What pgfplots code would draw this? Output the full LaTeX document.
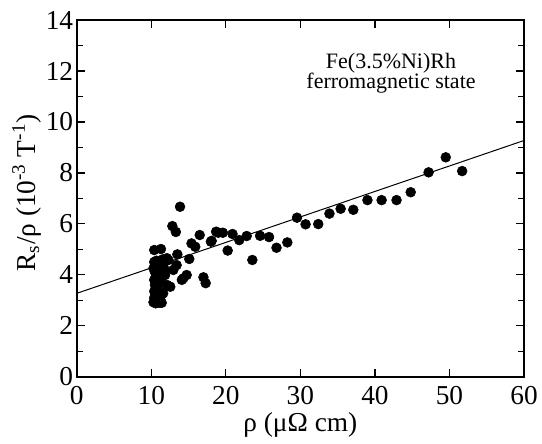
\documentclass[border=0pt]{standalone}
\usepackage{fontspec}
\setmainfont{Liberation Serif}
\usepackage{pgfplots}
\pgfplotsset{compat=1.18}
\begin{document}
\begin{tikzpicture}
\begin{axis}[
  scale only axis,
  width=335.5pt, height=267.5pt,
  xmin=0, xmax=60, ymin=0, ymax=14,
  xtick={0,10,...,60}, ytick={0,2,...,14},
  minor ytick={1,3,...,13},
  tick align=inside,
  major tick length=6pt, minor tick length=4.5pt,
  every tick/.style={black, line width=1pt},
  axis line style={line width=1.4pt},
  /pgf/number format/assume math mode=true,
  xticklabel={\pgfmathprintnumber{\tick}},
  yticklabel={\pgfmathprintnumber{\tick}},
  ticklabel style={font=\fontsize{20.5}{23}\selectfont},
  xticklabel style={anchor=base, inner sep=0pt, yshift=-21pt},
  yticklabel style={anchor=east, inner sep=0pt, xshift=-2.5pt},
  xlabel={ρ (μΩ cm)},
  ylabel={R\textsubscript{s}/ρ (10\textsuperscript{-3} T\textsuperscript{-1})},
  label style={font=\fontsize{20.5}{23}\selectfont, inner sep=0pt},
  xlabel style={at={(axis description cs:0.5,-0.1494)}, anchor=base, yshift=-1.5pt},
  ylabel style={at={(axis description cs:-0.0932,0.515)}, anchor=base},
  clip=false,
]
\addplot[black, line width=0.75pt] coordinates {(0,3.27) (60,9.27)};
\addplot[only marks, mark=*, mark size=3.7pt, black] coordinates {
(13.86,6.67) (12.83,5.91) (13.3,5.68) (16.5,5.56) (18.7,5.69) (15.4,5.23) (15.9,5.10)
(18.0,5.30) (10.4,4.97) (11.3,5.01) (13.5,4.80) (15.1,4.62) (12.3,4.58) (10.5,4.51)
(12.96,4.19) (14.75,3.99) (14.1,3.80) (17.0,3.90) (17.3,3.67) (12.55,3.53)
(12.1,4.65) (13.4,4.38) (14.3,3.86)
(10.3,2.92) (10.6,2.88) (11.1,2.9) (11.4,2.9) (10.4,3.1) (10.7,3.2) (10.4,3.35)
(10.9,3.45) (10.5,3.6) (11.0,3.7) (10.4,3.8) (10.8,3.95) (11.3,3.85) (10.5,4.1)
(10.3,4.25) (11.0,4.2) (11.8,4.2) (10.6,4.35) (11.3,4.45) (10.4,4.5) (11.6,4.4)
(11.85,3.99) (12.1,3.6) (11.6,3.27) (11.2,3.1) (10.7,4.55) (11.5,4.6)
(18.1,5.33) (19.0,5.65) (19.6,5.65) (20.25,4.95) (20.9,5.60) (21.8,5.36) (22.8,5.52)
(23.56,4.58) (24.6,5.53) (25.8,5.48) (26.8,5.06) (28.25,5.27) (29.55,6.24) (30.7,5.98)
(32.4,5.99) (33.9,6.40) (35.4,6.59) (37.1,6.55) (39.0,6.93) (40.9,6.93) (42.9,6.93)
(44.8,7.24) (47.2,8.02) (49.5,8.61) (51.7,8.07)
};
\node[anchor=base, font=\fontsize{16.5}{18}\selectfont] at (axis description cs:0.7027,0.8646) {Fe(3.5\%Ni)Rh};
\node[anchor=base, font=\fontsize{16.5}{18}\selectfont] at (axis description cs:0.7027,0.8066) {ferromagnetic state};
\coordinate (bbbl) at (axis description cs:-0.1715,-0.1887);
\coordinate (bbtr) at (axis description cs:1.0402,1.0561);
\end{axis}
\pgfresetboundingbox
\path[use as bounding box] (bbbl) rectangle (bbtr);
\end{tikzpicture}
\end{document}
